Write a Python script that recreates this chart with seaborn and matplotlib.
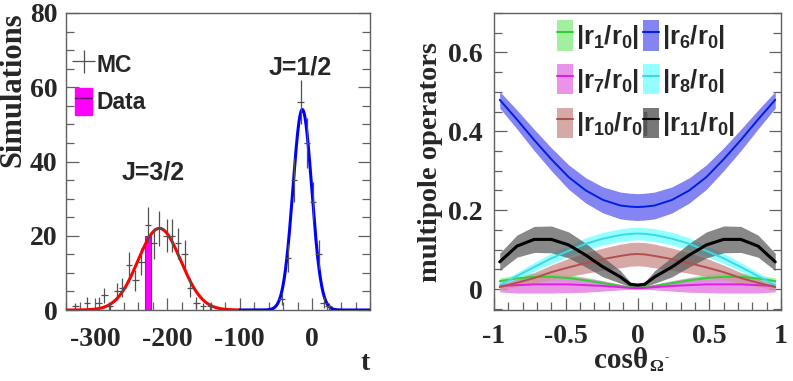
import numpy as np
import pandas as pd
import matplotlib
matplotlib.use("Agg")
import matplotlib.pyplot as plt
import seaborn as sns
from matplotlib.patches import Patch
from matplotlib.lines import Line2D
from matplotlib.legend_handler import HandlerTuple
from matplotlib.ticker import MultipleLocator, FixedLocator

# ---- left panel: MC histogram points, data bar and the two fits ----
mc_t = [-327, -311, -295, -287, -279, -269, -262, -253, -244, -236, -227,
        -219, -211, -201, -194, -185, -176, -168, -160, -151, -141,
        -42, -33, -25, -16, -7, 1, 9, 16, 23]
mc_val = [1, 2, 2, 4, 1, 5, 6, 12, 8, 13, 23, 18, 22, 20, 20, 18, 15, 6, 2, 1, 1,
          3, 14, 35, 56, 45, 29, 15, 2, 1]
mc_err = [1, 1.4, 1.4, 2, 1, 2.2, 2.5, 3.5, 2.8, 3.6, 4.8, 4.2, 4.7, 4.5, 4.5, 4.2,
          3.9, 2.5, 1.4, 1, 1, 1.7, 3.7, 5.9, 6, 6.7, 5.4, 3.9, 1.4, 1]

data_t = -227
data_val = 20

# gaussian fits: (amplitude, mean, sigma, t range)
fit_j32 = (22.0, -211.0, 29.5, (-340, -100))
fit_j12 = (54.0, -13.5, 13.0, (-100, 80))

# ---- right panel: multipole operator bands ----
cos_theta = [-0.96, -0.84, -0.72, -0.6, -0.48, -0.36, -0.24, -0.12, -0.05, 0,
             0.05, 0.12, 0.24, 0.36, 0.48, 0.6, 0.72, 0.84, 0.96]

r1 = [0.02, 0.027, 0.031, 0.031, 0.028, 0.022, 0.015, 0.008, 0.004, 0.003,
      0.004, 0.008, 0.015, 0.022, 0.028, 0.031, 0.031, 0.027, 0.02]
r1_err = [0.008, 0.009, 0.01, 0.01, 0.009, 0.008, 0.006, 0.004, 0.003, 0.002,
          0.003, 0.004, 0.006, 0.008, 0.009, 0.01, 0.01, 0.009, 0.008]

r6 = [0.48, 0.43, 0.378, 0.329, 0.284, 0.25, 0.226, 0.212, 0.209, 0.208,
      0.209, 0.212, 0.226, 0.25, 0.284, 0.329, 0.378, 0.43, 0.48]
r6_err = [0.021, 0.024, 0.027, 0.029, 0.031, 0.032, 0.033, 0.034, 0.034, 0.034,
          0.034, 0.034, 0.033, 0.032, 0.031, 0.029, 0.027, 0.024, 0.021]

r7 = [0.008, 0.01, 0.012, 0.012, 0.012, 0.01, 0.008, 0.005, 0.003, 0.002,
      0.003, 0.005, 0.008, 0.01, 0.012, 0.012, 0.012, 0.01, 0.008]
r7_err = [0.015, 0.02, 0.022, 0.022, 0.021, 0.018, 0.013, 0.007, 0.004, 0.003,
          0.004, 0.007, 0.013, 0.018, 0.021, 0.022, 0.022, 0.02, 0.015]

r8 = [0.01, 0.033, 0.056, 0.078, 0.097, 0.115, 0.128, 0.137, 0.14, 0.141,
      0.14, 0.137, 0.128, 0.115, 0.097, 0.078, 0.056, 0.033, 0.01]
r8_err = [0.007, 0.009, 0.011, 0.013, 0.014, 0.015, 0.016, 0.016, 0.016, 0.016,
          0.016, 0.016, 0.016, 0.015, 0.014, 0.013, 0.011, 0.009, 0.007]

r10 = [0.005, 0.016, 0.028, 0.043, 0.055, 0.066, 0.076, 0.084, 0.088, 0.089,
       0.088, 0.084, 0.076, 0.066, 0.055, 0.043, 0.028, 0.016, 0.005]
r10_err = [0.006, 0.01, 0.014, 0.018, 0.023, 0.026, 0.028, 0.03, 0.03, 0.03,
           0.03, 0.03, 0.028, 0.026, 0.023, 0.018, 0.014, 0.01, 0.006]

r11 = [0.069, 0.109, 0.126, 0.126, 0.112, 0.086, 0.056, 0.031, 0.012, 0.01,
       0.012, 0.031, 0.056, 0.086, 0.112, 0.126, 0.126, 0.109, 0.069]
r11_err = [0.022, 0.028, 0.033, 0.034, 0.033, 0.03, 0.025, 0.016, 0.006, 0.005,
           0.006, 0.016, 0.025, 0.03, 0.033, 0.034, 0.033, 0.028, 0.022]

sns.set_style("ticks")
plt.rcParams['font.family'] = ['Liberation Serif', 'DejaVu Serif']
plt.rcParams['axes.unicode_minus'] = False
plt.rcParams['mathtext.fontset'] = 'custom'
plt.rcParams['mathtext.rm'] = 'Liberation Sans:bold'
plt.rcParams['mathtext.it'] = 'Liberation Sans:bold'
plt.rcParams['mathtext.bf'] = 'Liberation Sans:bold'

W, H = 793, 381
fig = plt.figure(figsize=(W / 100, H / 100), dpi=100)
ax1 = fig.add_axes([66 / W, 71 / H, 304 / W, 297 / H])
ax2 = fig.add_axes([494 / W, 71 / H, 287 / W, 297 / H])

serif_bold = dict(family='Liberation Serif', weight='bold')
sans_bold = dict(family='Liberation Sans', weight='bold')
overlay = {tuple: HandlerTuple(ndivide=1, pad=0)}


def style_axes(ax):
    for s in ax.spines.values():
        s.set_color('#606060')
        s.set_linewidth(1.0)
    ax.tick_params(which='both', direction='in', right=True, top=False,
                   color='#606060', width=0.9)
    ax.tick_params(which='major', length=9)
    ax.tick_params(which='minor', length=6)
    for lab in ax.get_xticklabels() + ax.get_yticklabels():
        lab.set_fontfamily('Liberation Serif')
        lab.set_fontweight('bold')
        lab.set_fontsize(20)


# ---------------- left panel ----------------
def gauss_curve(fit):
    amp, mu, sig, (lo, hi) = fit
    t = np.linspace(lo, hi, 400)
    return pd.DataFrame({'t': t, 'y': amp * np.exp(-0.5 * ((t - mu) / sig) ** 2)})


ax1.bar(data_t, data_val, width=9, color='#ff00ff', edgecolor='#803080',
        linewidth=0.8, zorder=2)
sns.lineplot(data=gauss_curve(fit_j32), x='t', y='y', ax=ax1, color='#ff0000',
             linewidth=2.2, zorder=3)
sns.lineplot(data=gauss_curve(fit_j12), x='t', y='y', ax=ax1, color='#0000ff',
             linewidth=2.2, zorder=3)
mc = ax1.errorbar(mc_t, mc_val, yerr=mc_err, xerr=4.5, fmt='none',
                  ecolor='#505050', elinewidth=0.9, zorder=4)

ax1.set_xlim(-340, 80)
ax1.set_ylim(0, 80)
ax1.xaxis.set_major_locator(FixedLocator([-300, -200, -100, 0]))
ax1.xaxis.set_minor_locator(MultipleLocator(20))
ax1.yaxis.set_major_locator(MultipleLocator(20))
ax1.yaxis.set_minor_locator(MultipleLocator(5))
ax1.set_xlabel('')
ax1.set_ylabel('')
ax1.tick_params(axis='x', pad=12)
ax1.tick_params(axis='y', pad=6)
style_axes(ax1)
fig.text(13 / W, 1 - 12 / H, 'Simulations', rotation=90, ha='center', va='top',
         size=22, **serif_bold)
fig.text(365 / W, 1 - 363 / H, 't', ha='center', va='center', size=20, **serif_bold)

ax1.text(-219, 37, 'J=3/2', ha='center', va='center', fontsize=18, **sans_bold)
ax1.text(-16, 65.3, 'J=1/2', ha='center', va='center', fontsize=18, **sans_bold)

data_handle = (Patch(facecolor='#ff00ff', edgecolor='#ff00ff'),
               Line2D([], [], color='#600060', linewidth=1))
leg1 = ax1.legend([mc, data_handle], ['MC', 'Data'], handler_map=overlay,
                  loc='upper left', bbox_to_anchor=(0.0, 0.905), frameon=False,
                  prop=dict(family='Liberation Sans', weight='bold', size=16.5),
                  handlelength=0.75, handleheight=1.5, handletextpad=0.2,
                  labelspacing=0.4, borderaxespad=0)

# ---------------- right panel ----------------
bands = [
    ('$|r_{1}/r_{0}|$', r1, r1_err, '#90ee90', '#30d030'),
    ('$|r_{6}/r_{0}|$', r6, r6_err, '#6f6ff0', '#0020e0'),
    ('$|r_{7}/r_{0}|$', r7, r7_err, '#e680e6', '#e020e0'),
    ('$|r_{8}/r_{0}|$', r8, r8_err, '#80ffff', '#40d8e8'),
    ('$|r_{10}/r_{0}|$', r10, r10_err, '#cf9a98', '#b05050'),
    ('$|r_{11}/r_{0}|$', r11, r11_err, '#606060', '#000000'),
]
draw_order = [0, 2, 3, 4, 5, 1]
handles = {}
for i in draw_order:
    label, vals, errs, fc, lc = bands[i]
    v = np.array(vals)
    e = np.array(errs)
    ax2.fill_between(cos_theta, v - e, v + e, color=fc, alpha=0.85 if i != 5 else 0.75,
                     linewidth=0, zorder=2 + i * 0.1)
    df = pd.DataFrame({'c': cos_theta, 'v': vals})
    sns.lineplot(data=df, x='c', y='v', ax=ax2, color=lc,
                 linewidth=2.2 if i == 5 else 1.4, zorder=3 + i * 0.1)
    handles[i] = (Patch(facecolor=fc, alpha=0.85, edgecolor='none'),
                  Line2D([], [], color=lc, linewidth=1.5))

ax2.set_xlim(-1, 1)
ax2.set_ylim(-0.053, 0.7)
ax2.xaxis.set_major_locator(FixedLocator([-1, -0.5, 0, 0.5, 1]))
ax2.xaxis.set_minor_locator(MultipleLocator(0.1))
ax2.yaxis.set_major_locator(FixedLocator([0, 0.2, 0.4, 0.6]))
ax2.yaxis.set_minor_locator(MultipleLocator(0.05))
ax2.set_xticklabels(['-1', '-0.5', '0', '0.5', '1'])
ax2.set_yticklabels(['0', '0.2', '0.4', '0.6'])
ax2.set_xlabel('')
ax2.set_ylabel('multipole operators', fontsize=20.5, fontweight='bold', labelpad=4)
ax2.tick_params(axis='x', pad=10)
ax2.tick_params(axis='y', pad=8)
style_axes(ax2)

# two single-column legends so the columns can sit close like the original
leg_kw = dict(handler_map=overlay, loc='upper left', frameon=False, fontsize=18.5,
              handlelength=0.6, handleheight=1.45, handletextpad=0.12,
              labelspacing=0.5, borderaxespad=0)
col_a = [0, 2, 4]
col_b = [1, 3, 5]
leg2a = ax2.legend([handles[i] for i in col_a], [bands[i][0] for i in col_a],
                   bbox_to_anchor=(0.185, 1.01), **leg_kw)
ax2.add_artist(leg2a)
leg2b = ax2.legend([handles[i] for i in col_b], [bands[i][0] for i in col_b],
                   bbox_to_anchor=(0.485, 1.01), **leg_kw)

fig.text(621 / W, 1 - 360 / H, 'cosθ', ha='center', va='center', size=21, **serif_bold)
fig.text(656 / W, 1 - 367 / H, 'Ω', ha='center', va='center', size=12.5, **serif_bold)
fig.text(667 / W, 1 - 357 / H, '-', ha='center', va='center', size=9, **serif_bold)

fig.savefig('out.png', dpi=100)
